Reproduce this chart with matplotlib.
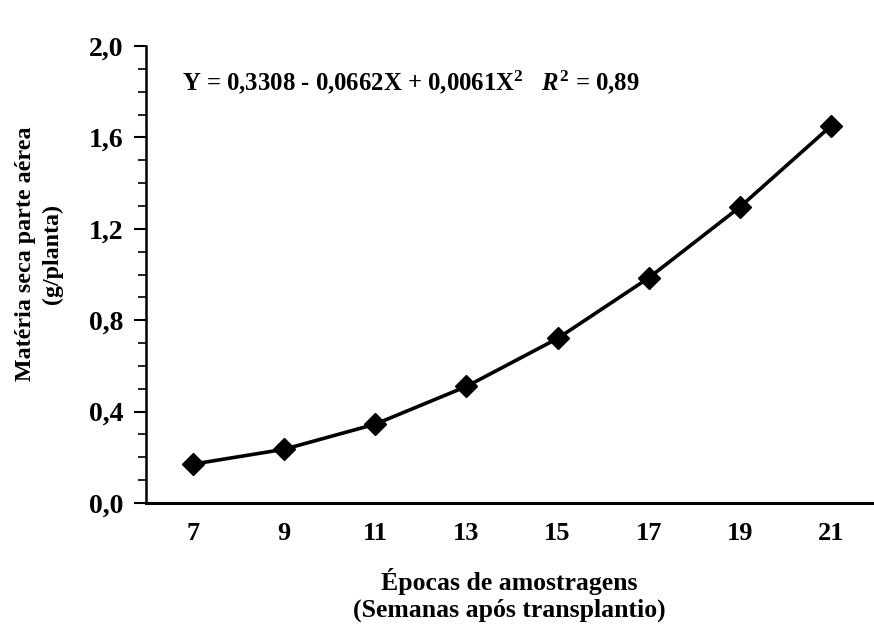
import matplotlib.pyplot as plt
import matplotlib.ticker as mticker

plt.rcParams['font.family'] = ['Liberation Serif', 'DejaVu Serif']
plt.rcParams['font.weight'] = 'bold'
plt.rcParams['mathtext.fontset'] = 'custom'
plt.rcParams['mathtext.rm'] = 'Liberation Serif:bold'
plt.rcParams['mathtext.it'] = 'Liberation Serif:italic:bold'
plt.rcParams['mathtext.bf'] = 'Liberation Serif:bold'

semanas = [7, 9, 11, 13, 15, 17, 19, 21]
materia_seca = [0.17, 0.235, 0.345, 0.51, 0.72, 0.985, 1.295, 1.65]
yticks = [0.0, 0.4, 0.8, 1.2, 1.6, 2.0]

fig = plt.figure(figsize=(8.74, 6.39), dpi=100)
ax = fig.add_axes([146 / 874, 1 - 503 / 639, (872 - 146) / 874, (503 - 46) / 639])

ax.plot(semanas, materia_seca, color='black', lw=2.6, marker='D', markersize=11,
        markerfacecolor='black', markeredgecolor='black')

ax.set_xlim(5.97, 21.9)
ax.set_ylim(0, 2.0)
ax.set_xticks(semanas)
ax.set_yticks(yticks)
ax.yaxis.set_minor_locator(mticker.MultipleLocator(0.1))
ax.yaxis.set_major_formatter(mticker.FuncFormatter(lambda v, p: ('%.1f' % v).replace('.', ',')))

for s in ['top', 'right']:
    ax.spines[s].set_visible(False)
ax.spines['left'].set_linewidth(1.8)
ax.spines['bottom'].set_linewidth(2.2)

ax.tick_params(axis='x', length=0, pad=14, labelsize=19)
ax.tick_params(axis='y', which='major', length=9, width=1.5, direction='out', pad=7, labelsize=20)
ax.tick_params(axis='y', which='minor', length=6, width=1.2, direction='out')
for lab in ax.get_xticklabels() + ax.get_yticklabels():
    lab.set_fontweight('bold')

ax.set_xlabel('Épocas de amostragens\n(Semanas após transplantio)', fontsize=18.5,
              fontweight='bold', labelpad=16, linespacing=1.2)
ax.set_ylabel('Matéria seca parte aérea\n(g/planta)', fontsize=17.3,
              fontweight='bold', linespacing=1.35)
ax.yaxis.set_label_coords(-0.114, 0.545)

ax.text(6.76, 1.842, r'Y = 0,3308 - 0,0662X + 0,0061X$^2$   $R^2$ = 0,89',
        fontsize=17.8, fontweight='bold', va='center', ha='left')

fig.savefig('out.png', dpi=100)
